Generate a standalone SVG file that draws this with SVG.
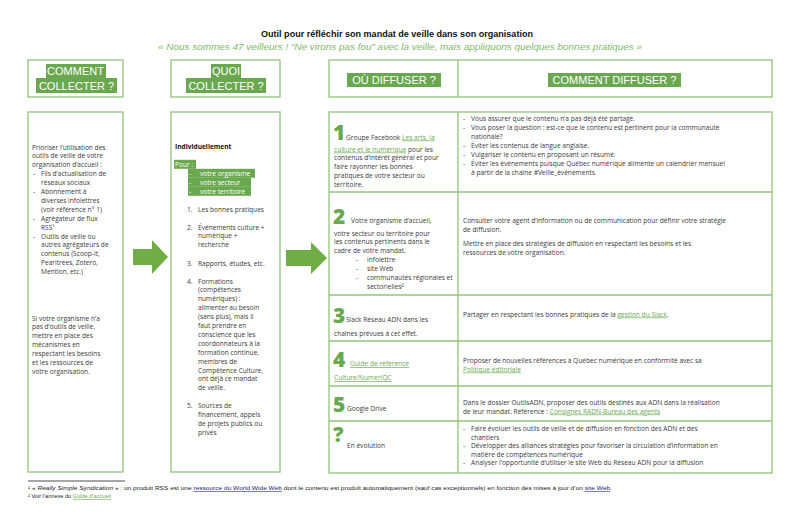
<svg xmlns="http://www.w3.org/2000/svg" width="800" height="518" viewBox="0 0 800 518">
<defs>
<style>
.box{fill:#fff;stroke:#93c47d;stroke-width:1.3}
.ln{stroke:#93c47d;stroke-width:1.3}
.t{font-family:"Open Sans","DejaVu Sans",sans-serif;font-size:6.6px;fill:#3a3a3a}
.b{font-weight:700;fill:#111}
.w{fill:#fff}
.lk{fill:#6aa84f;text-decoration:underline}
.hd{font-family:"Liberation Sans",Arial,sans-serif;font-size:11px;fill:#fff}
.hl{fill:#6aa84f}
.dg{font-family:"Open Sans","DejaVu Sans",sans-serif;font-size:21px;font-weight:800;fill:#6aa84f}
.fn{font-family:"Liberation Sans",Arial,sans-serif;font-size:5.6px;fill:#222}
.nv{fill:#1a1a8c;text-decoration:underline}
.arr{fill:#70ad47}
</style>
</defs>
<rect width="800" height="518" fill="#fff"/>

<g id="title">
<text x="397" y="37" text-anchor="middle" font-family="Liberation Sans, Arial, sans-serif" font-size="9" font-weight="700" fill="#111" textLength="272" lengthAdjust="spacingAndGlyphs">Outil pour réfléchir son mandat de veille dans son organisation</text>
<text x="400" y="50" text-anchor="middle" font-family="Liberation Sans, Arial, sans-serif" font-size="8.5" font-style="italic" fill="#7fb96d" textLength="484" lengthAdjust="spacingAndGlyphs">« Nous sommes 47 veilleurs ! “Ne virons pas fou” avec la veille, mais appliquons quelques bonnes pratiques »</text>
</g>

<g id="comment-collecter-header">
<rect class="box" x="28" y="60" width="95" height="37"/>
<rect class="hl" x="46" y="64" width="60" height="14"/>
<rect class="hl" x="36" y="78" width="81" height="15"/>
<text class="hd" x="75.5" y="75" text-anchor="middle">COMMENT</text>
<text class="hd" x="76.5" y="90" text-anchor="middle">COLLECTER ?</text>
</g>

<g id="quoi-collecter-header">
<rect class="box" x="171" y="60" width="109" height="37"/>
<rect class="hl" x="211" y="64" width="30" height="14"/>
<rect class="hl" x="186" y="78" width="80" height="15"/>
<text class="hd" x="226" y="75" text-anchor="middle">QUOI</text>
<text class="hd" x="226" y="90" text-anchor="middle">COLLECTER ?</text>
</g>

<g id="diffuser-header">
<rect class="box" x="329" y="60" width="443" height="37"/>
<line class="ln" x1="458" y1="60" x2="458" y2="97"/>
<rect class="hl" x="347" y="73" width="94" height="14"/>
<rect class="hl" x="548" y="73" width="133" height="14"/>
<text class="hd" x="394" y="84" text-anchor="middle">OÙ DIFFUSER ?</text>
<text class="hd" x="614.5" y="84" text-anchor="middle">COMMENT DIFFUSER ?</text>
</g>

<g id="comment-collecter">
<rect class="box" x="28" y="112" width="95" height="360"/>
<text class="t">
<tspan x="32" y="149.5">Prioriser l’utilisation des</tspan>
<tspan x="32" y="158.4">outils de veille de votre</tspan>
<tspan x="32" y="167.3">organisation d’accueil :</tspan>
<tspan x="33" y="176.2">-</tspan><tspan x="41" y="176.2">Fils d’actualisation de</tspan>
<tspan x="41" y="185.1">réseaux sociaux</tspan>
<tspan x="33" y="194">-</tspan><tspan x="41" y="194">Abonnement à</tspan>
<tspan x="41" y="202.9">diverses infolettres</tspan>
<tspan x="41" y="211.8">(voir référence n° 1)</tspan>
<tspan x="33" y="220.7">-</tspan><tspan x="41" y="220.7">Agrégateur de flux</tspan>
<tspan x="41" y="229.6">RSS¹</tspan>
<tspan x="33" y="238.5">-</tspan><tspan x="41" y="238.5">Outils de veille ou</tspan>
<tspan x="41" y="247.4">autres agrégateurs de</tspan>
<tspan x="41" y="256.3">contenus (Scoop-it,</tspan>
<tspan x="41" y="265.2">Pearltrees, Zotero,</tspan>
<tspan x="41" y="274.1">Mention, etc.)</tspan>
</text>
<text class="t">
<tspan x="32" y="320.5">Si votre organisme n’a</tspan>
<tspan x="32" y="329.4">pas d’outils de veille,</tspan>
<tspan x="32" y="338.3">mettre en place des</tspan>
<tspan x="32" y="347.2">mécanismes en</tspan>
<tspan x="32" y="356.1">respectant les besoins</tspan>
<tspan x="32" y="365">et les ressources de</tspan>
<tspan x="32" y="373.9">votre organisation.</tspan>
</text>
</g>

<g id="quoi-collecter">
<rect class="box" x="171" y="112" width="109" height="360"/>
<text class="t b" x="175" y="148.5">Individuellement</text>
<rect class="hl" x="174" y="159.8" width="22" height="9"/>
<rect class="hl" x="188" y="168.8" width="67" height="9"/>
<rect class="hl" x="188" y="177.8" width="63" height="9"/>
<rect class="hl" x="188" y="186.8" width="63" height="9"/>
<text class="t w">
<tspan x="175" y="166.5">Pour :</tspan>
<tspan x="189" y="175.5">-</tspan><tspan x="200" y="175.5">votre organisme</tspan>
<tspan x="189" y="184.5">-</tspan><tspan x="200" y="184.5">votre secteur</tspan>
<tspan x="189" y="193.5">-</tspan><tspan x="200" y="193.5">votre territoire</tspan>
</text>
<text class="t">
<tspan x="187" y="211.5">1.</tspan><tspan x="198" y="211.5">Les bonnes pratiques</tspan>
<tspan x="187" y="229.5">2.</tspan><tspan x="198" y="229.5">Événements culture +</tspan>
<tspan x="198" y="238.4">numérique +</tspan>
<tspan x="198" y="247.3">recherche</tspan>
<tspan x="187" y="265.5">3.</tspan><tspan x="198" y="265.5">Rapports, études, etc.</tspan>
<tspan x="187" y="283.5">4.</tspan><tspan x="198" y="283.5">Formations</tspan>
<tspan x="198" y="292.4">(compétences</tspan>
<tspan x="198" y="301.3">numériques) :</tspan>
<tspan x="198" y="310.2">alimenter au besoin</tspan>
<tspan x="198" y="319.1">(sans plus), mais il</tspan>
<tspan x="198" y="328">faut prendre en</tspan>
<tspan x="198" y="336.9">conscience que les</tspan>
<tspan x="198" y="345.8">coordonnateurs à la</tspan>
<tspan x="198" y="354.7">formation continue,</tspan>
<tspan x="198" y="363.6">membres de</tspan>
<tspan x="198" y="372.5">Compétence Culture,</tspan>
<tspan x="198" y="381.4">ont déjà ce mandat</tspan>
<tspan x="198" y="390.3">de veille.</tspan>
<tspan x="187" y="408">5.</tspan><tspan x="198" y="408">Sources de</tspan>
<tspan x="198" y="416.9">financement, appels</tspan>
<tspan x="198" y="425.8">de projets publics ou</tspan>
<tspan x="198" y="434.7">privés</tspan>
</text>
</g>

<g id="diffuser-table">
<rect class="box" x="329" y="112" width="443" height="361"/>
<line class="ln" x1="458" y1="112" x2="458" y2="473"/>
<line class="ln" x1="329" y1="192" x2="772" y2="192"/>
<line class="ln" x1="329" y1="295" x2="772" y2="295"/>
<line class="ln" x1="329" y1="341" x2="772" y2="341"/>
<line class="ln" x1="329" y1="386" x2="772" y2="386"/>
<line class="ln" x1="329" y1="421" x2="772" y2="421"/>
</g>

<g id="row-1">
<text class="dg" x="333" y="140">1</text>
<text class="t">
<tspan x="346" y="139.5">Groupe Facebook </tspan><tspan class="lk">Les arts, la</tspan>
<tspan x="334" y="151.5" class="lk">culture et le numérique</tspan><tspan> pour les</tspan>
<tspan x="334" y="160.4">contenus d’intérêt général et pour</tspan>
<tspan x="334" y="169.3">faire rayonner les bonnes</tspan>
<tspan x="334" y="178.2">pratiques de votre secteur ou</tspan>
<tspan x="334" y="187.1">territoire.</tspan>
</text>
<text class="t">
<tspan x="463" y="121">-</tspan><tspan x="471" y="121">Vous assurer  que le contenu n’a pas déjà été partagé.</tspan>
<tspan x="463" y="130">-</tspan><tspan x="471" y="130">Vous poser la question : est-ce que le contenu est pertinent pour la communauté</tspan>
<tspan x="471" y="139">nationale?</tspan>
<tspan x="463" y="148">-</tspan><tspan x="471" y="148">Éviter les contenus de langue anglaise.</tspan>
<tspan x="463" y="157">-</tspan><tspan x="471" y="157">Vulgariser le contenu en proposant un résumé.</tspan>
<tspan x="463" y="166">-</tspan><tspan x="471" y="166">Éviter les événements puisque Québec numérique alimente un calendrier mensuel</tspan>
<tspan x="471" y="175">à partir de la chaîne #Veille_événements</tspan>
</text>
</g>

<g id="row-2">
<text class="dg" x="333" y="224">2</text>
<text class="t">
<tspan x="351" y="223">Votre organisme d’accueil,</tspan>
<tspan x="334" y="235.5">votre secteur ou territoire pour</tspan>
<tspan x="334" y="244.4">les contenus pertinents dans le</tspan>
<tspan x="334" y="253.3">cadre de votre mandat.</tspan>
<tspan x="356" y="262.2">-</tspan><tspan x="367" y="262.2">infolettre</tspan>
<tspan x="356" y="271.1">-</tspan><tspan x="367" y="271.1">site Web</tspan>
<tspan x="356" y="280">-</tspan><tspan x="367" y="280">communautés régionales et</tspan>
<tspan x="367" y="288.9">sectorielles²</tspan>
</text>
<text class="t">
<tspan x="463" y="222.5">Consulter votre agent d’information ou de communication pour définir votre stratégie</tspan>
<tspan x="463" y="231.5">de diffusion.</tspan>
<tspan x="463" y="245.5">Mettre en place des stratégies de diffusion en respectant les besoins et les</tspan>
<tspan x="463" y="254.5">ressources de votre organisation.</tspan>
</text>
</g>

<g id="row-3">
<text class="dg" x="333" y="323">3</text>
<text class="t">
<tspan x="346" y="322">Slack Réseau ADN dans les</tspan>
<tspan x="334" y="335.5">chaînes prévues à cet effet.</tspan>
</text>
<text class="t" x="463" y="316.5">Partager en respectant les bonnes pratiques de la <tspan class="lk">gestion du Slack</tspan>.</text>
</g>

<g id="row-4">
<text class="dg" x="333" y="367">4</text>
<text class="t">
<tspan x="350" y="366" class="lk">Guide de référence</tspan>
<tspan x="334" y="380" class="lk">Culture/NumeriQC</tspan>
</text>
<text class="t">
<tspan x="463" y="362.5">Proposer de nouvelles références à Québec numérique en conformité avec sa</tspan>
<tspan x="463" y="371.5" class="lk">Politique éditoriale</tspan>
</text>
</g>

<g id="row-5">
<text class="dg" x="333" y="412">5</text>
<text class="t" x="347" y="411">Google Drive</text>
<text class="t">
<tspan x="463" y="404.5">Dans le dossier OutilsADN, proposer des outils destinés aux ADN dans la réalisation</tspan>
<tspan x="463" y="413.5">de leur mandat. Référence : </tspan><tspan class="lk">Consignes RADN-Bureau des agents</tspan>
</text>
</g>

<g id="row-6">
<text class="dg" x="333" y="442">?</text>
<text class="t" x="347" y="447.5">En évolution</text>
<text class="t">
<tspan x="463" y="431">-</tspan><tspan x="471" y="431">Faire évoluer les outils de veille et de diffusion en fonction des ADN et des</tspan>
<tspan x="471" y="439.5">chantiers</tspan>
<tspan x="463" y="448">-</tspan><tspan x="471" y="448">Développer des alliances stratégies pour favoriser la circulation d’information en</tspan>
<tspan x="471" y="456.5">matière de compétences numérique</tspan>
<tspan x="463" y="465">-</tspan><tspan x="471" y="465">Analyser l’opportunité d’utiliser le site Web du Réseau ADN pour la diffusion</tspan>
</text>
</g>

<g id="connectors">
<polygon class="arr" points="133,249 152,249 152,240 168,257 152,274 152,265 133,265"/>
<polygon class="arr" points="286,250 311,250 311,242 327,258 311,274 311,266 286,266"/>
</g>

<g id="footnotes">
<line x1="28" y1="481" x2="125" y2="481" stroke="#222" stroke-width="0.8"/>
<text class="fn" x="28" y="490" textLength="584" lengthAdjust="spacingAndGlyphs">¹ « <tspan font-style="italic">Really Simple Syndication</tspan> » : un produit RSS est une <tspan class="nv">ressource du World Wide Web</tspan> dont le contenu est produit automatiquement (sauf cas exceptionnels) en fonction des mises à jour d’un <tspan class="nv">site Web</tspan>.</text>
<text class="fn" x="28" y="498">² Voir l’annexe du <tspan class="lk">Guide d’accueil</tspan></text>
</g>
</svg>
